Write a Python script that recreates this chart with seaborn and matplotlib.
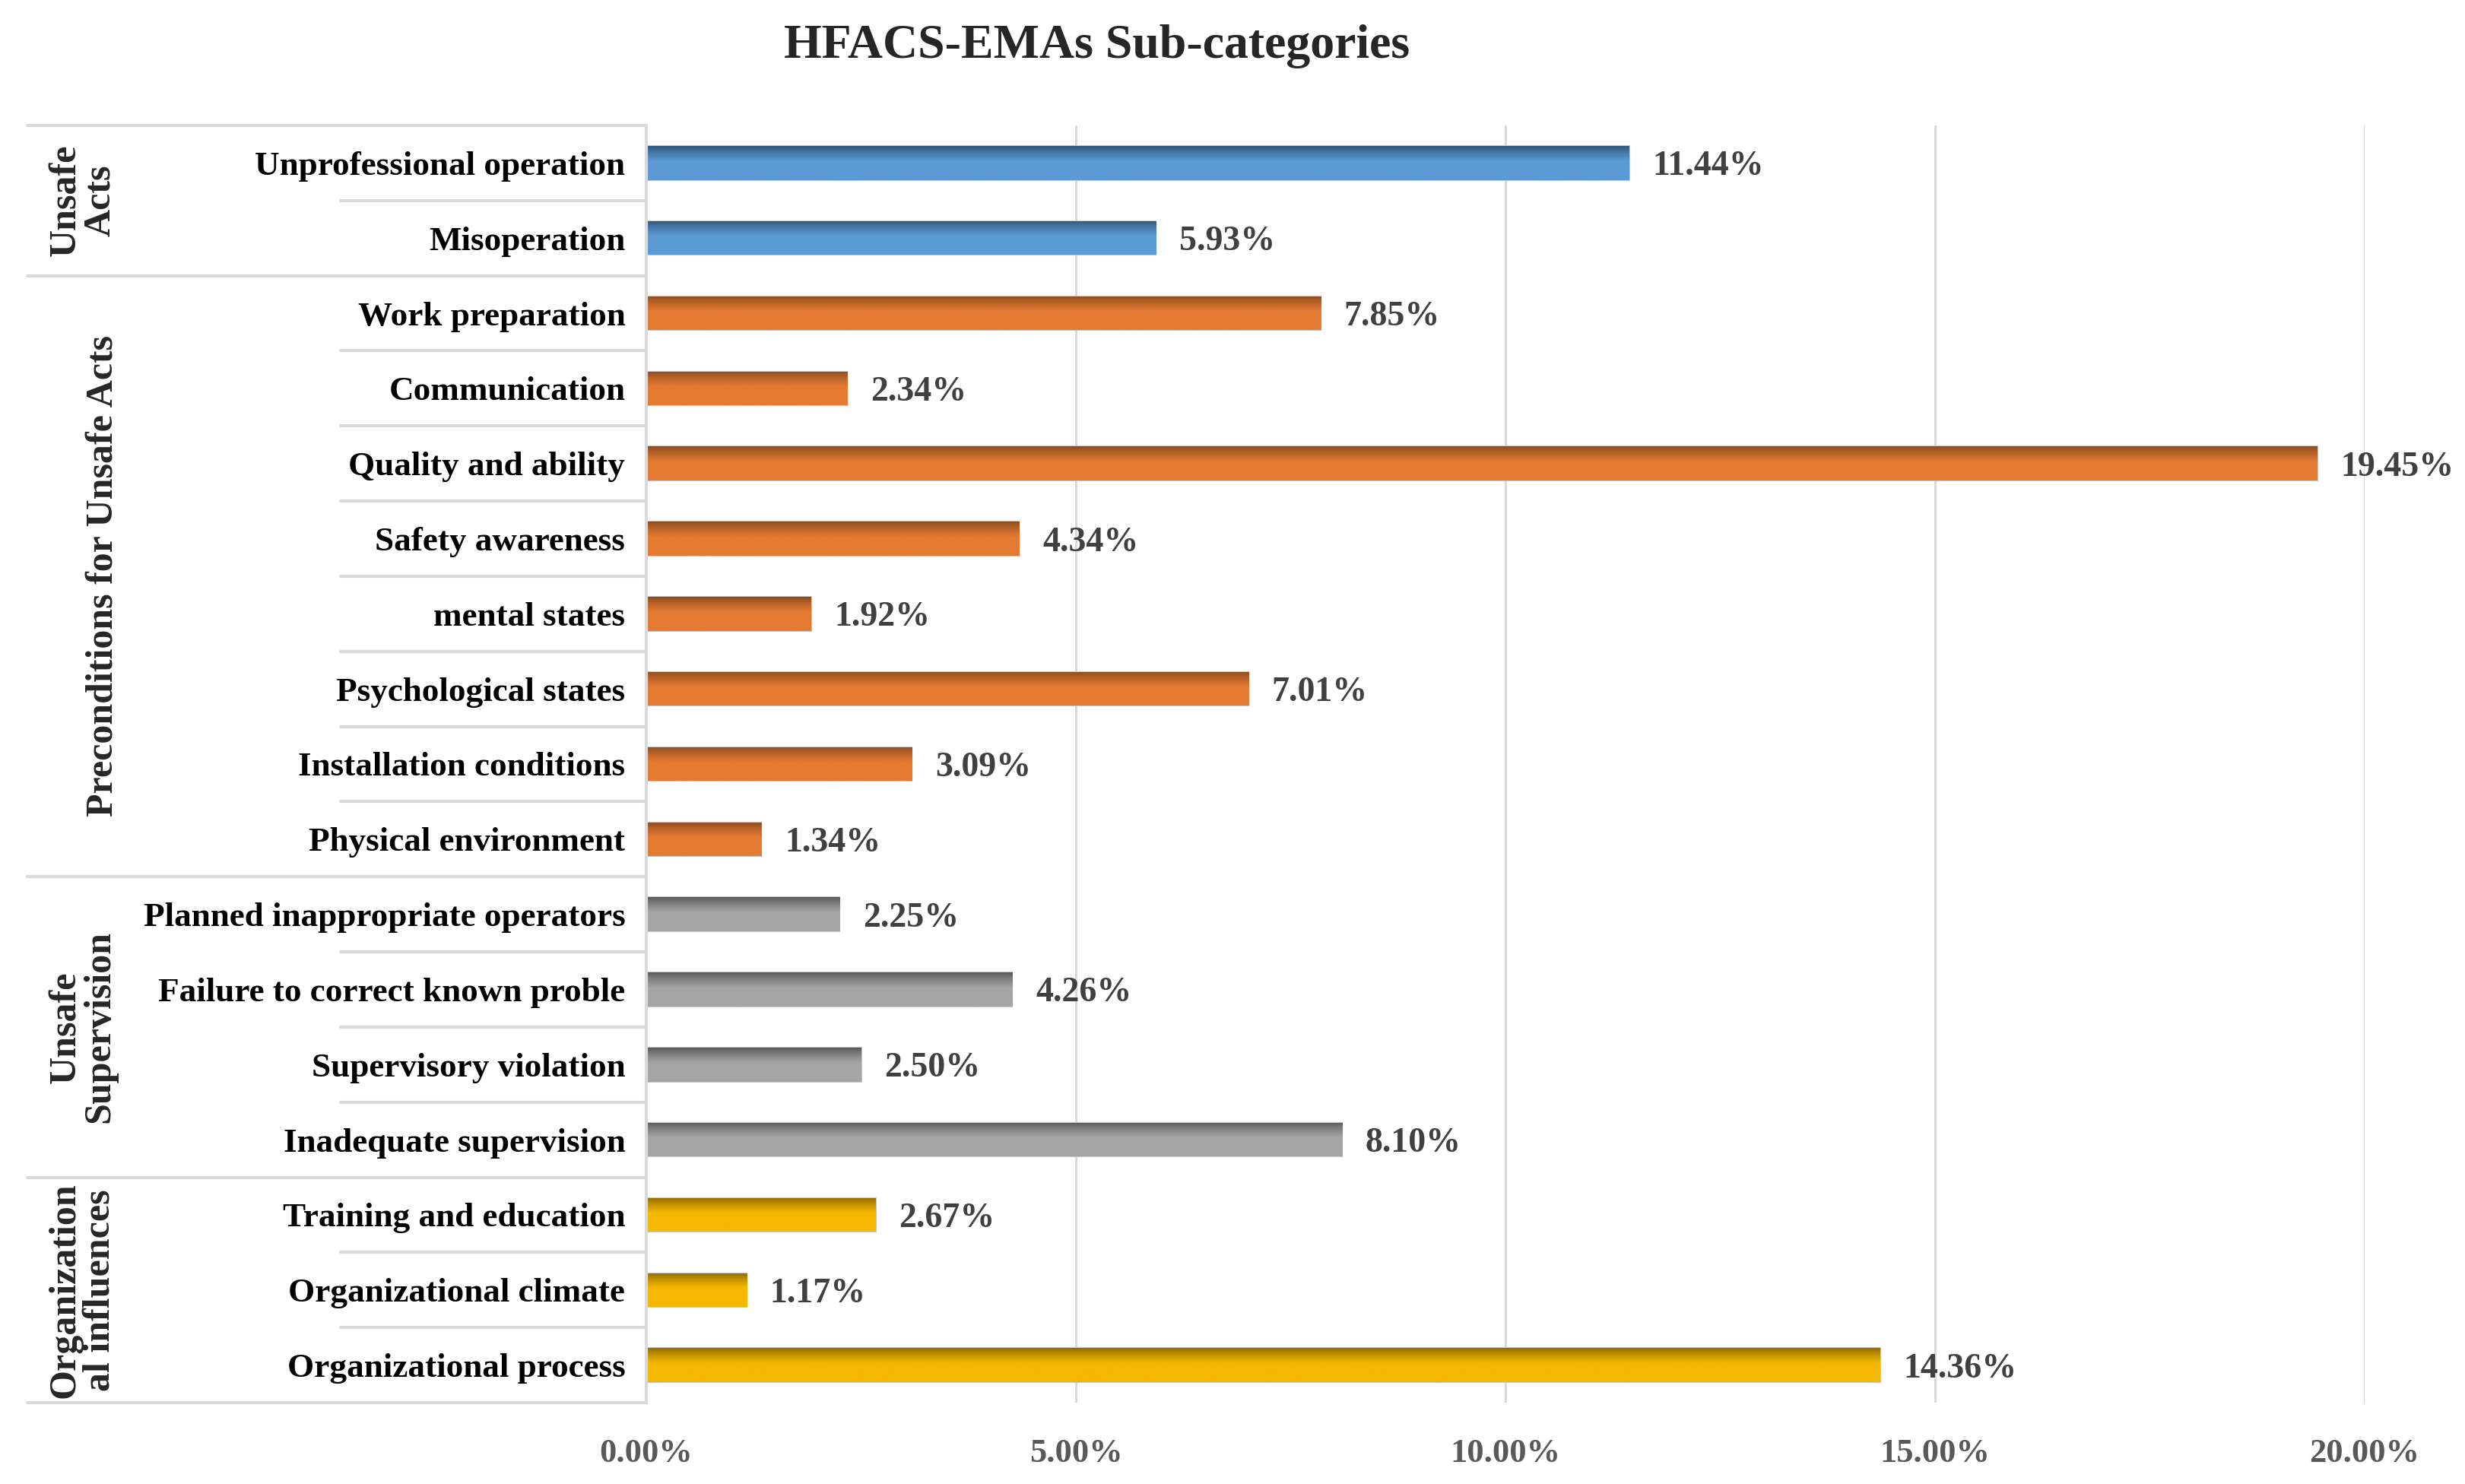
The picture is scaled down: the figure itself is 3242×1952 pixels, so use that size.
import numpy as np
import pandas as pd
import matplotlib
matplotlib.use("Agg")
import matplotlib.pyplot as plt
from matplotlib.colors import to_rgb
import seaborn as sns

# data
group_names = ["Unsafe Acts", "Preconditions for Unsafe Acts", "Unsafe Supervision", "Organizational influences"]
group_titles = ["Unsafe\nActs", "Preconditions for Unsafe Acts", "Unsafe\nSupervision", "Organization\nal influences"]

unsafe_acts = ["Unprofessional operation", "Misoperation"]
unsafe_acts_vals = [11.44, 5.93]

preconditions = ["Work preparation", "Communication", "Quality and ability", "Safety awareness",
                 "mental states", "Psychological states", "Installation conditions", "Physical environment"]
preconditions_vals = [7.85, 2.34, 19.45, 4.34, 1.92, 7.01, 3.09, 1.34]

supervision = ["Planned inappropriate operators", "Failure to correct known proble",
               "Supervisory violation", "Inadequate supervision"]
supervision_vals = [2.25, 4.26, 2.50, 8.10]

organization = ["Training and education", "Organizational climate", "Organizational process"]
organization_vals = [2.67, 1.17, 14.36]

x_ticks = [0, 5, 10, 15, 20]

light_colors = ["#5B9BD5", "#E57A32", "#A5A5A5", "#F5B800"]
dark_colors = ["#2F5478", "#8A4A1E", "#585858", "#8A6A00"]

cats_by_group = [unsafe_acts, preconditions, supervision, organization]
vals_by_group = [unsafe_acts_vals, preconditions_vals, supervision_vals, organization_vals]

rows = []
for g, cats, vals in zip(group_names, cats_by_group, vals_by_group):
    for c, v in zip(cats, vals):
        rows.append({"group": g, "category": c, "value": v})
df = pd.DataFrame(rows)
order = list(df["category"])

sns.set_theme(style="white")
plt.rcParams["font.family"] = ["Liberation Serif", "DejaVu Serif"]
plt.rcParams["font.weight"] = "bold"

fig = plt.figure(figsize=(32.42, 19.52), dpi=100)
ax = fig.add_axes([0.2622, 0.0548, 0.6971, 0.8607])

sns.barplot(data=df, x="value", y="category", hue="group", order=order, hue_order=group_names,
            palette=dict(zip(group_names, light_colors)), dodge=False, width=0.45,
            legend=False, ax=ax)

# vertical gradient on every bar (dark top -> light bottom)
n = 64
t = np.linspace(0, 1, n)
ramp = np.clip(t / 0.45, 0, 1) ** 0.8
for container, lc, dc in zip(ax.containers, light_colors, dark_colors):
    lo, hi = np.array(to_rgb(dc)), np.array(to_rgb(lc))
    grad = (lo[None, :] * (1 - ramp[:, None]) + hi[None, :] * ramp[:, None])[:, None, :]
    for p in container.patches:
        x0, y0, w, h = p.get_x(), p.get_y(), p.get_width(), p.get_height()
        p.set_edgecolor("#c8c8c8")
        p.set_linewidth(1.5)
        im = ax.imshow(grad, extent=(x0, x0 + w, y0 + h, y0), aspect="auto",
                       origin="upper", zorder=p.get_zorder() + 0.1)
        im.set_clip_path(p)
    labels = ax.bar_label(container, fmt="%.2f%%", padding=22, fontsize=33,
                          fontweight="bold", color="#404040")
    for lab in labels:
        lab.set_va("center_baseline")

ax.set_xlim(0, 20)
ax.set_ylim(len(order) - 0.5, -0.5)
ax.set_xticks(x_ticks)
ax.set_xticklabels([f"{v:.2f}%" for v in x_ticks])
ax.set_xlabel("")
ax.set_ylabel("")
ax.grid(axis="x", color="#d9d9d9", linewidth=2.2)
ax.set_axisbelow(True)
for s in ["top", "right", "bottom"]:
    ax.spines[s].set_visible(False)
ax.spines["left"].set_color("#d9d9d9")
ax.spines["left"].set_linewidth(3)
ax.tick_params(axis="x", length=0, pad=34, labelsize=32, labelcolor="#595959")
ax.tick_params(axis="y", length=8, width=3, color="#d9d9d9", pad=12, labelsize=32.5, labelcolor="black")
for lab in ax.get_xticklabels() + ax.get_yticklabels():
    lab.set_fontweight("bold")

# table lines on the left
tr = ax.get_yaxis_transform()
line_kw = dict(color="#d9d9d9", linewidth=3, transform=tr, clip_on=False)
x_outer, x_inner = -0.36, -0.178
start = 0
bounds = [-0.5]
for cats in cats_by_group:
    for i in range(1, len(cats)):
        ax.plot([x_inner, 0], [start + i - 0.5] * 2, **line_kw)
    start += len(cats)
    bounds.append(start - 0.5)
for b in bounds:
    ax.plot([x_outer, 0], [b, b], **line_kw)

# group titles
start = 0
for title, cats in zip(group_titles, cats_by_group):
    mid = start + (len(cats) - 1) / 2
    xpos = -0.316 if "\n" not in title else -0.328
    ax.text(xpos, mid, title, transform=tr, rotation=90, ha="center", va="center",
            fontsize=36, fontweight="bold", linespacing=1.0, multialignment="center")
    start += len(cats)

fig.text(0.445, 0.969, "HFACS-EMAs Sub-categories", ha="center", va="center",
         fontsize=46, fontweight="bold")

fig.savefig("out.png", dpi=100)
